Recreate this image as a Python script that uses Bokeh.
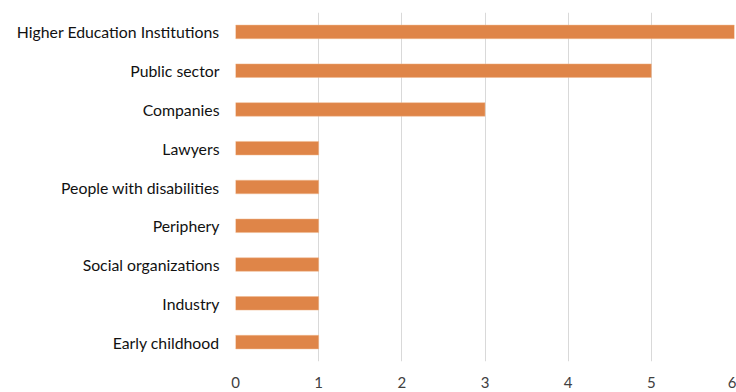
from bokeh.plotting import figure
from bokeh.models import FactorRange, Range1d, FixedTicker, ColumnDataSource
from bokeh.embed import file_html
from bokeh.resources import INLINE

categories = ["Higher Education Institutions", "Public sector", "Companies", "Lawyers",
              "People with disabilities", "Periphery", "Social organizations", "Industry",
              "Early childhood"]
values = [6, 5, 3, 1, 1, 1, 1, 1, 1]
x_ticks = [0, 1, 2, 3, 4, 5, 6]

src = ColumnDataSource(dict(cat=categories, val=values))

p = figure(width=736, height=392, output_backend="svg", toolbar_location=None,
           y_range=FactorRange(factors=list(reversed(categories))),
           x_range=Range1d(0, 6),
           min_border_left=235, min_border_right=2, min_border_top=12, min_border_bottom=31)
p.outline_line_color = None
p.background_fill_color = "white"
p.border_fill_color = "white"

p.hbar(y="cat", right="val", left=0, height=0.35, source=src,
       fill_color="#DF8548", line_color="#F0B88F", line_width=0.5)

p.xaxis.ticker = FixedTicker(ticks=x_ticks)
p.xaxis.axis_line_color = None
p.xaxis.major_tick_line_color = None
p.xaxis.minor_tick_line_color = None
p.xaxis.major_tick_out = 0
p.xaxis.major_label_standoff = 15
p.xaxis.major_label_text_font = "Lato"
p.xaxis.major_label_text_font_size = "15px"
p.xaxis.major_label_text_color = "#404040"

p.yaxis.axis_line_color = None
p.yaxis.major_tick_line_color = None
p.yaxis.major_tick_out = 0
p.yaxis.major_label_standoff = 16
p.yaxis.major_label_text_font = "Lato"
p.yaxis.major_label_text_font_size = "15.8px"
p.yaxis.major_label_text_color = "#111111"

p.xgrid.grid_line_color = "#D9D9D9"
p.xgrid.grid_line_width = 1
p.ygrid.grid_line_color = None

open("out.html", "w").write(file_html(p, INLINE))
